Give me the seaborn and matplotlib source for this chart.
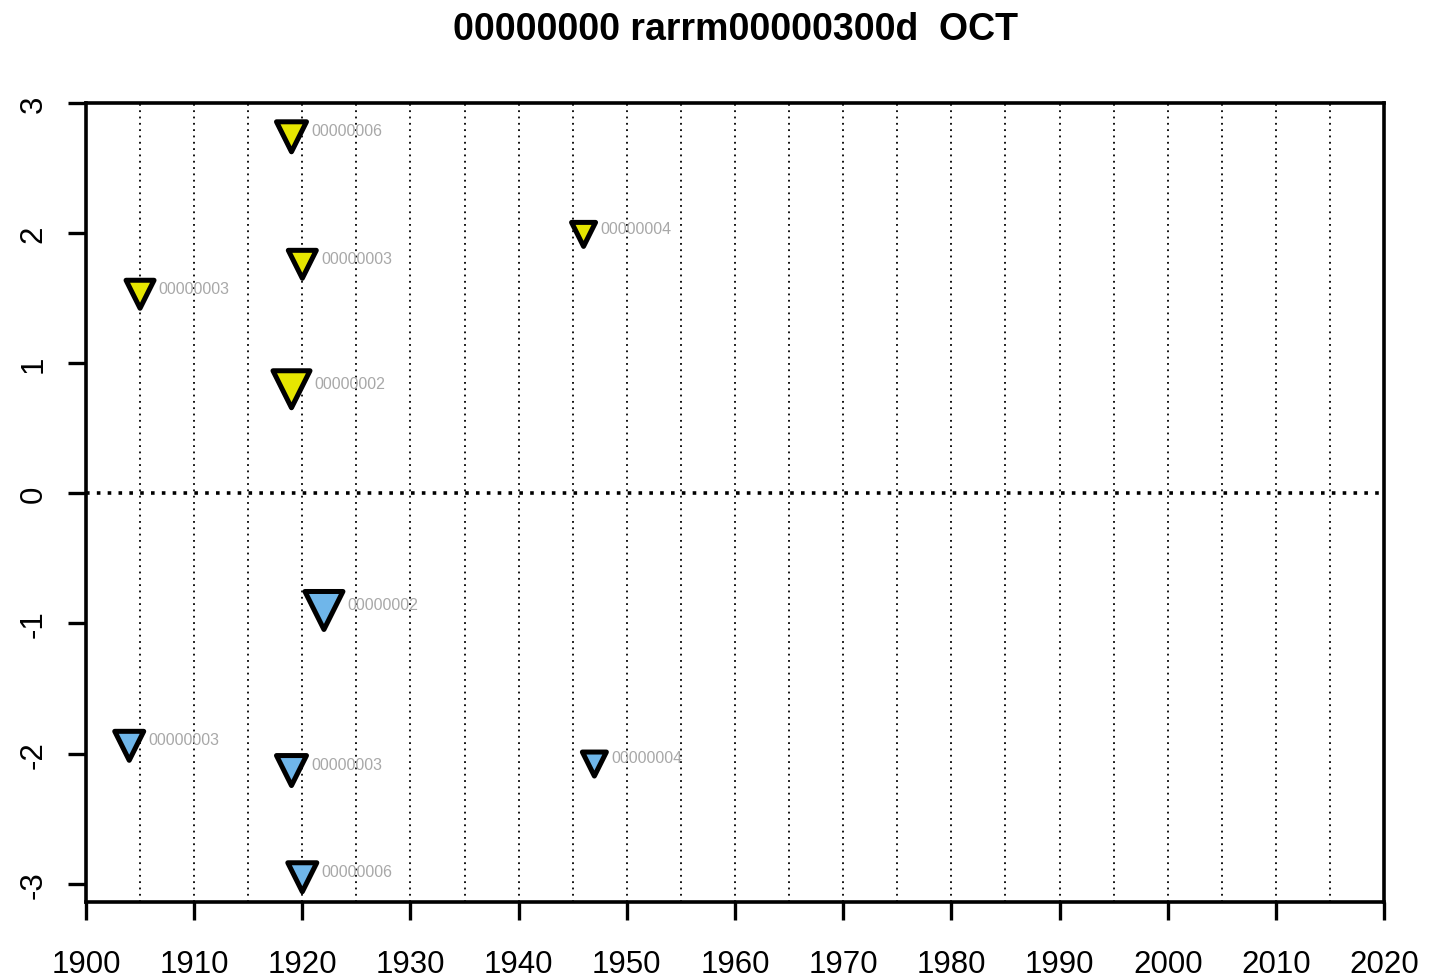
import matplotlib
matplotlib.use("Agg")
import matplotlib.pyplot as plt
import seaborn as sns
import pandas as pd

# Anomaly events: year, anomaly value, marker width (px) and station code
pos_years = [1919, 1920, 1905, 1919, 1946]
pos_values = [2.74, 1.76, 1.53, 0.80, 1.99]
pos_widths = [35, 33, 33, 42, 29]
pos_codes = ["00000006", "00000003", "00000003", "00000002", "00000004"]

neg_years = [1922, 1904, 1919, 1947, 1920]
neg_values = [-0.90, -1.94, -2.13, -2.08, -2.95]
neg_widths = [43, 34, 35, 29, 34]
neg_codes = ["00000002", "00000003", "00000003", "00000004", "00000006"]

x_ticks = [1900, 1910, 1920, 1930, 1940, 1950, 1960, 1970, 1980, 1990, 2000, 2010, 2020]
y_ticks = [-3, -2, -1, 0, 1, 2, 3]
title = "00000000 rarrm00000300d  OCT"

sns.set_theme(style="white")
plt.rcParams["font.family"] = ["Liberation Sans", "DejaVu Sans"]

DPI = 100
fig = plt.figure(figsize=(14.35, 9.78), dpi=DPI)
ax = fig.add_axes([0.0599, 0.0767, 0.9046, 0.8170])

# background guides: dotted verticals every 5 years, dotted zero line
for yr in range(1905, 2020, 5):
    ax.axvline(yr, color="black", linestyle=(0, (1, 2.5)), linewidth=1.3, zorder=1)
ax.axhline(0, color="black", linestyle=(0, (1, 2.0)), linewidth=2.6, zorder=1)

px_to_pt = 72.0 / DPI


def draw_group(years, values, widths, codes, color):
    df = pd.DataFrame({"year": years, "value": values})
    sizes = [((w - 5) * px_to_pt) ** 2 for w in widths]
    sns.scatterplot(data=df, x="year", y="value", marker="v", s=sizes,
                    color=color, edgecolor="black", linewidth=3.6,
                    ax=ax, zorder=3, legend=False)
    for yr, val, w, code in zip(years, values, widths, codes):
        ax.annotate(code, (yr, val), xytext=(w * 0.5 * px_to_pt + 1.5, 4.5),
                    textcoords="offset points", ha="left", va="center",
                    fontsize=11.5, color="#a8a8a8", zorder=2)


draw_group(pos_years, pos_values, pos_widths, pos_codes, "#e6e600")
draw_group(neg_years, neg_values, neg_widths, neg_codes, "#6fb6ea")

ax.set_xlim(1900, 2020)
ax.set_ylim(-3.14, 3.0)
ax.set_xticks(x_ticks)
ax.set_yticks(y_ticks)
ax.set_xticklabels([str(t) for t in x_ticks], fontsize=22.5, color="black")
ax.set_yticklabels([str(t) for t in y_ticks], rotation=90, va="center",
                   fontsize=22.5, color="black")
ax.set_xlabel("")
ax.set_ylabel("")

for sp in ax.spines.values():
    sp.set_visible(True)
    sp.set_color("black")
    sp.set_linewidth(2.6)

ax.tick_params(axis="both", which="major", direction="out", length=13,
               width=2.4, color="black",
               bottom=True, left=True, top=False, right=False)
ax.tick_params(axis="x", pad=21)
ax.tick_params(axis="y", pad=14)

ax.set_title(title, fontsize=27, fontweight="bold", pad=46, color="black")

fig.savefig("out.png", dpi=DPI, facecolor="white")
